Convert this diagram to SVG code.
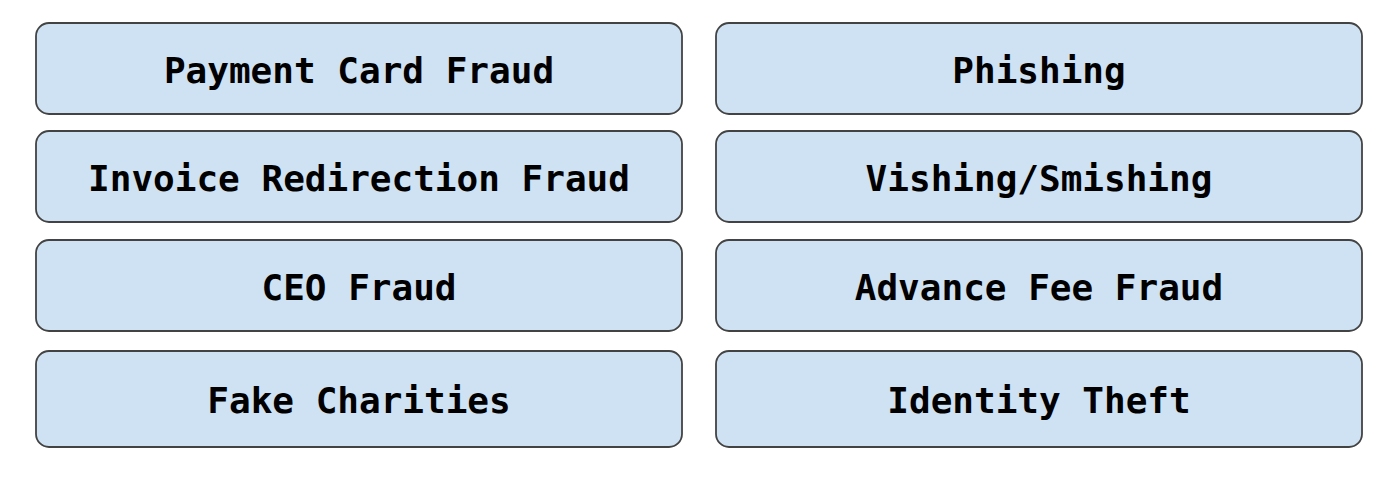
<svg xmlns="http://www.w3.org/2000/svg" width="1400" height="480" viewBox="0 0 1400 480">
<style>
.box{fill:#cfe2f3;stroke:#434343;stroke-width:1.8}
.lbl{font-family:"DejaVu Sans Mono","Liberation Mono",monospace;font-weight:bold;font-size:36px;fill:#000;text-anchor:middle}
</style>
<rect width="1400" height="480" fill="#ffffff"/>
<g id="connectors"></g>
<g id="n1"><rect class="box" x="36" y="23" width="646" height="91" rx="13"/><text class="lbl" x="359" y="83">Payment Card Fraud</text></g>
<g id="n2"><rect class="box" x="36" y="131" width="646" height="91" rx="13"/><text class="lbl" x="359" y="191">Invoice Redirection Fraud</text></g>
<g id="n3"><rect class="box" x="36" y="240" width="646" height="91" rx="13"/><text class="lbl" x="359" y="300">CEO Fraud</text></g>
<g id="n4"><rect class="box" x="36" y="351" width="646" height="96" rx="13"/><text class="lbl" x="359" y="413">Fake Charities</text></g>
<g id="n5"><rect class="box" x="716" y="23" width="646" height="91" rx="13"/><text class="lbl" x="1039" y="83">Phishing</text></g>
<g id="n6"><rect class="box" x="716" y="131" width="646" height="91" rx="13"/><text class="lbl" x="1039" y="191">Vishing/Smishing</text></g>
<g id="n7"><rect class="box" x="716" y="240" width="646" height="91" rx="13"/><text class="lbl" x="1039" y="300">Advance Fee Fraud</text></g>
<g id="n8"><rect class="box" x="716" y="351" width="646" height="96" rx="13"/><text class="lbl" x="1039" y="413">Identity Theft</text></g>
</svg>
